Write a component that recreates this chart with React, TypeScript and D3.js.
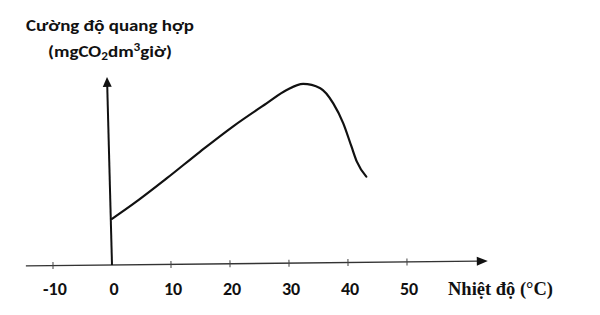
import React from "react";
import * as d3 from "d3";

const temps = [0, 3.6, 9.3, 14.9, 20.6, 26.2, 29.6, 32.4, 35.3, 37.5, 39.2, 40.6, 41.5, 43.1];
const rates = [25.6, 33.9, 48.2, 62.9, 77.2, 89.8, 97.2, 100.6, 98.2, 89.8, 78.7, 65.7, 57.4, 49.1];
const tickValues = [-10, 0, 10, 20, 30, 40, 50];
const yTitle1 = "Cường độ quang hợp";
const xTitle = "Nhiệt độ (°C)";

export default function App() {
  const W = 600, H = 315;
  const x = d3.scaleLinear().domain([0, 50]).range([112, 407]);
  const y = d3.scaleLinear().domain([0, 100]).range([265, 85]);
  const pts: [number, number][] = temps.map((t, i) => [x(t), y(rates[i])]);
  const line = d3.line().curve(d3.curveMonotoneX)(pts) || "";
  const x0 = x(0), y0 = y(0);
  const axisLeft = x(-14.6);
  const axisRight = x(63.7);
  const xRot = (Math.atan2(-4.8, 460) * 180) / Math.PI;
  const yTop = y(104.5);
  const yRot = (Math.atan2(-5, 188) * 180) / Math.PI;
  const sans = "Carlito, Calibri, Lato, 'Open Sans', sans-serif";
  return (
    <svg width={W} height={H} style={{ position: "absolute", left: 0, top: 0, background: "#fff" }}>
      <rect width={W} height={H} fill="#fff" />
      {/* y title */}
      <text x={26} y={31} fontFamily={sans} fontWeight="bold" fontSize={16.5} fill="#111" textLength={168} lengthAdjust="spacingAndGlyphs">
        {yTitle1}
      </text>
      <text x={48} y={57} fontFamily={sans} fontWeight="bold" fontSize={16.5} fill="#111" textLength={124} lengthAdjust="spacingAndGlyphs">
        (mgCO<tspan fontSize={11.5} dy={3}>2</tspan>
        <tspan dy={-3}>dm</tspan>
        <tspan fontSize={11.5} dy={-6}>3</tspan>
        <tspan dy={6}>giờ)</tspan>
      </text>
      {/* x axis */}
      <g transform={`rotate(${xRot}, ${x0}, ${y0})`}>
        <line x1={axisLeft} x2={axisRight - 9} y1={y0} y2={y0} stroke="#333" strokeWidth={1.4} />
        <path d={`M${axisRight},${y0} L${axisRight - 11},${y0 - 4.5} L${axisRight - 11},${y0 + 4.5} Z`} fill="#111" />
        {tickValues.filter((t) => t !== 0).map((t) => (
          <line key={t} x1={x(t)} x2={x(t)} y1={y0 - 3.5} y2={y0 + 3.5} stroke="#444" strokeWidth={1} />
        ))}
      </g>
      {tickValues.map((t) => (
        <text key={t} x={x(t) + 2} y={295} textAnchor="middle" fontFamily={sans} fontWeight="900" fontSize={18} fill="#111">
          {t}
        </text>
      ))}
      <text x={448} y={295} fontFamily="'Liberation Serif', 'Times New Roman', serif" fontWeight="bold" fontSize={18.5} fill="#111">
        {xTitle}
      </text>
      {/* y axis */}
      <g transform={`rotate(${yRot}, ${x0}, ${y0})`}>
        <line x1={x0} x2={x0} y1={y0} y2={yTop + 8} stroke="#111" strokeWidth={2} />
        <path d={`M${x0},${yTop} L${x0 - 4.5},${yTop + 10} L${x0 + 4.5},${yTop + 10} Z`} fill="#111" />
      </g>
      {/* curve */}
      <path d={line} fill="none" stroke="#111" strokeWidth={2.2} strokeLinecap="round" />
    </svg>
  );
}
